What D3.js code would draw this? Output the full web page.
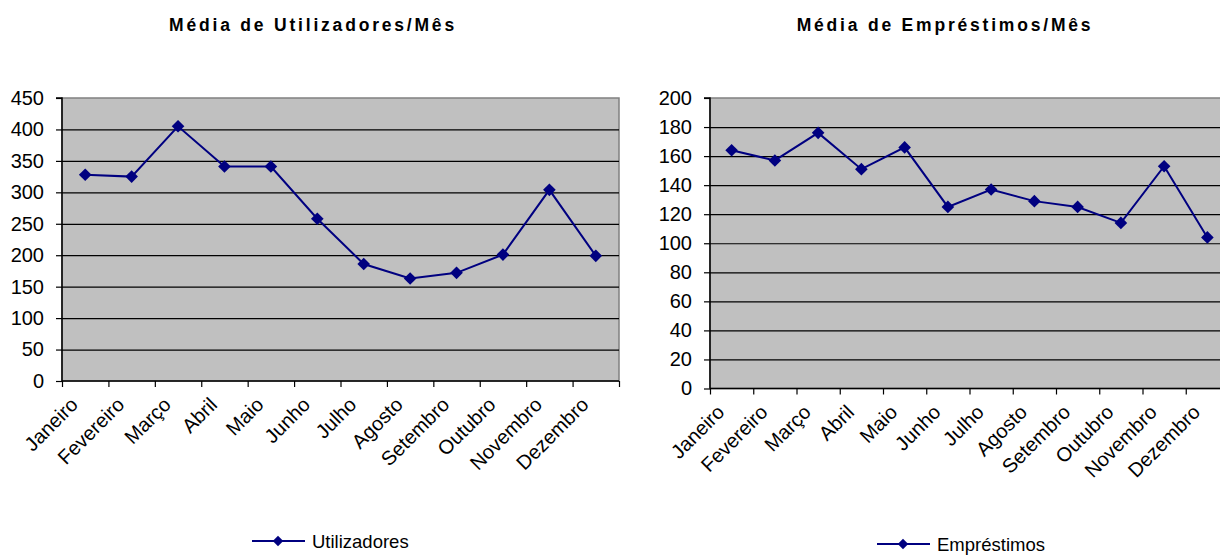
<!DOCTYPE html>
<html>
<head>
<meta charset="utf-8">
<script src="https://cdn.jsdelivr.net/npm/d3@7"></script>
<style>
  html, body { margin: 0; padding: 0; background: #fff; }
  svg { display: block; font-family: "Liberation Sans", Arial, sans-serif; }
</style>
</head>
<body>
<svg id="chart" width="1220" height="555"></svg>
<script>
// ---- data ----
const months = ["Janeiro", "Fevereiro", "Março", "Abril", "Maio", "Junho",
                "Julho", "Agosto", "Setembro", "Outubro", "Novembro", "Dezembro"];
const utilizadores = [328, 325, 405, 341, 341, 258, 186, 163, 172, 201, 304, 199];
const emprestimos  = [164, 157, 176, 151, 166, 125, 137, 129, 125, 114, 153, 104];
const utilTicks = [0, 50, 100, 150, 200, 250, 300, 350, 400, 450];
const empTicks  = [0, 20, 40, 60, 80, 100, 120, 140, 160, 180, 200];
const titles = ["Média de Utilizadores/Mês", "Média de Empréstimos/Mês"];
const seriesNames = ["Utilizadores", "Empréstimos"];

const svg = d3.select("#chart");
const NAVY = "#000080";
const FONT = "Liberation Sans, Arial, sans-serif";

function drawChart(cfg) {
  const g = svg.append("g");
  const x = d3.scaleBand().domain(months).range([cfg.left, cfg.right]).padding(0);
  const xb = d3.scaleLinear().domain([0, months.length]).range([cfg.left, cfg.right]);
  const y = d3.scaleLinear().domain([0, d3.max(cfg.ticks)]).range([cfg.bottom, cfg.top]);

  // plot background
  g.append("rect")
    .attr("x", cfg.left).attr("y", cfg.top)
    .attr("width", cfg.right - cfg.left).attr("height", cfg.bottom - cfg.top)
    .attr("fill", "#c0c0c0").attr("stroke", "#808080").attr("stroke-width", 1.5);

  // gridlines
  const grid = g.append("g").attr("transform", `translate(${cfg.left},0)`)
    .call(d3.axisLeft(y).tickValues(cfg.ticks.filter(t => t > 0 && t < d3.max(cfg.ticks)))
      .tickSize(-(cfg.right - cfg.left)).tickFormat(""));
  grid.select(".domain").remove();
  grid.selectAll(".tick line").attr("stroke", "#000").attr("stroke-width", 1.2);

  // y axis
  const ya = g.append("g").attr("transform", `translate(${cfg.left},0)`)
    .call(d3.axisLeft(y).tickValues(cfg.ticks).tickSize(6).tickPadding(12));
  ya.select(".domain").attr("stroke", "#000").attr("stroke-width", 1.5)
    .attr("d", `M-6,${cfg.top}H0V${cfg.bottom}`);
  ya.selectAll(".tick line").attr("stroke", "#000").attr("stroke-width", 1.2);
  ya.selectAll(".tick text").attr("font-size", 20).attr("fill", "#000")
    .attr("font-family", FONT);

  // x axis boundary ticks
  const xa = g.append("g").attr("transform", `translate(0,${cfg.bottom})`)
    .call(d3.axisBottom(xb).tickValues(d3.range(0, months.length + 1)).tickSize(6).tickFormat(""));
  xa.select(".domain").attr("stroke", "#000").attr("stroke-width", 1.5)
    .attr("d", `M${cfg.left},0H${cfg.right}`);
  xa.selectAll(".tick line").attr("stroke", "#000").attr("stroke-width", 1.2);

  // x labels rotated
  const xl = g.append("g").attr("transform", `translate(0,${cfg.bottom})`)
    .call(d3.axisBottom(x).tickSize(0).tickPadding(0));
  xl.select(".domain").remove();
  xl.selectAll(".tick text")
    .attr("font-size", 20).attr("fill", "#000")
    .attr("font-family", FONT)
    .attr("text-anchor", "end")
    .attr("dy", null).attr("y", null)
    .attr("transform", "translate(-6,25) rotate(-45)");

  // line
  const line = d3.line().x((d, i) => x(months[i]) + x.bandwidth() / 2).y(d => y(d));
  g.append("path").datum(cfg.values)
    .attr("d", line).attr("fill", "none").attr("stroke", NAVY).attr("stroke-width", 2);

  g.selectAll(".pt").data(cfg.values).enter().append("path")
    .attr("class", "pt")
    .attr("d", d3.symbol().type(d3.symbolSquare).size(80))
    .attr("transform", (d, i) => `translate(${x(months[i]) + x.bandwidth() / 2},${y(d)}) rotate(45)`)
    .attr("fill", NAVY);

  // title
  g.append("text")
    .attr("x", cfg.titleX).attr("y", 31)
    .attr("text-anchor", "middle")
    .attr("font-size", 17.5).attr("font-weight", "bold")
    .style("letter-spacing", "2.8px")
    .text(cfg.title);

  // legend
  const lg = g.append("g").attr("transform", `translate(${cfg.legX},${cfg.legY})`);
  lg.append("line").attr("x1", 0).attr("x2", 53).attr("y1", 0).attr("y2", 0)
    .attr("stroke", NAVY).attr("stroke-width", 2);
  lg.append("path").attr("d", d3.symbol().type(d3.symbolSquare).size(55))
    .attr("transform", "translate(26,0) rotate(45)").attr("fill", NAVY);
  lg.append("text").attr("x", 60).attr("y", 6.5).attr("font-size", 18.5).text(cfg.series);
}

drawChart({
  left: 62, right: 619, top: 98, bottom: 381,
  values: utilizadores, ticks: utilTicks,
  title: titles[0], titleX: 313, series: seriesNames[0],
  legX: 252, legY: 541
});
drawChart({
  left: 710, right: 1229, top: 98, bottom: 388.5,
  values: emprestimos, ticks: empTicks,
  title: titles[1], titleX: 945, series: seriesNames[1],
  legX: 877, legY: 544
});
</script>
</body>
</html>
